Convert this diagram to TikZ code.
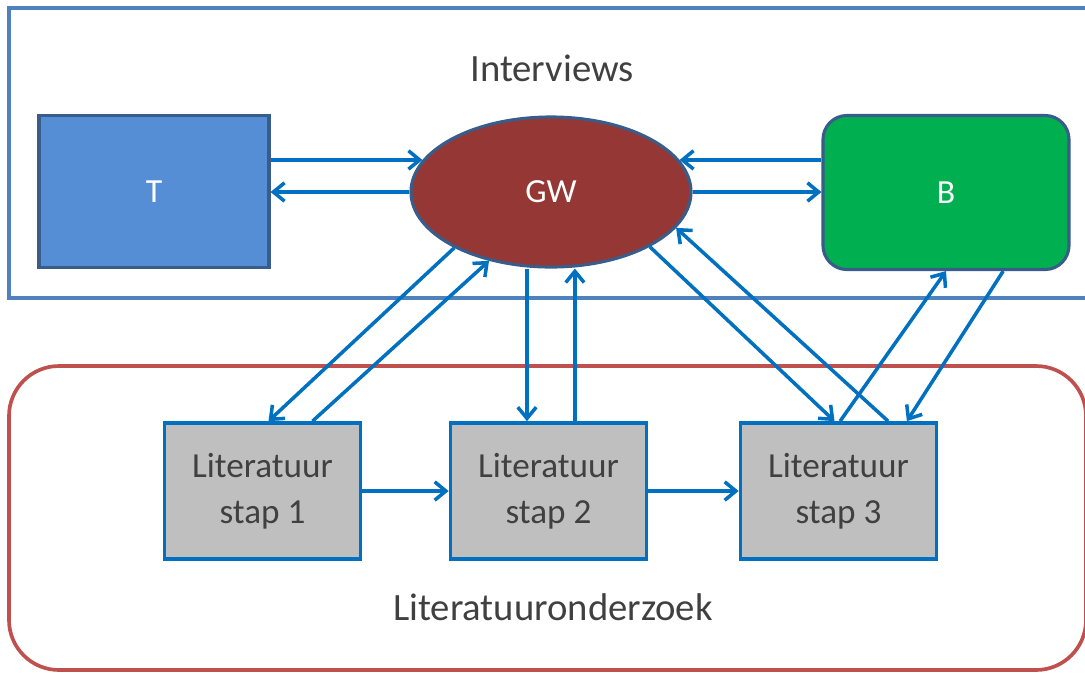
\documentclass[tikz,border=0pt]{standalone}
\usepackage{fontspec}
\setmainfont{Carlito}
\usetikzlibrary{arrows.meta,shapes.geometric}

\definecolor{flowblue}{HTML}{0070C0}
\definecolor{frameblue}{HTML}{4F81BD}
\definecolor{framered}{HTML}{C0504D}
\definecolor{edgeblue}{HTML}{385D8A}
\definecolor{tblue}{HTML}{558ED5}
\definecolor{gwred}{HTML}{953735}
\definecolor{bgreen}{HTML}{00B050}
\definecolor{litgrey}{HTML}{BFBFBF}
\definecolor{textgrey}{HTML}{404040}

\tikzset{
  flow/.style={draw=flowblue, line width=2.5pt, -{Straight Barb[length=2.8mm,width=4.6mm]}},
  actor/.style={draw=edgeblue, line width=2.2pt, text=white, font=\fontsize{24}{28}\selectfont},
  litbox/.style={draw=flowblue, line width=2.6pt, fill=litgrey, minimum width=4.9cm,
    minimum height=3.4cm, align=center, text=textgrey, font=\fontsize{25}{33}\selectfont},
  caption/.style={text=textgrey, font=\fontsize{27.5}{32}\selectfont},
}

\begin{document}
\begin{tikzpicture}[x=0.025cm, y=-0.025cm]
  \clip (0,0) rectangle (1085,673);
  % the two groups
  \draw[frameblue, line width=2.2pt] (9,8) rectangle (1095,298);
  \draw[framered, line width=2.6pt, rounded corners=1.25cm] (9,366) rectangle (1086,670);
  \node[caption] (interviews) at (552,68) {Interviews};
  \node[caption] (litonderzoek) at (553,607) {Literatuuronderzoek};

  % interviews
  \node[actor, fill=tblue, minimum width=5.75cm, minimum height=3.8cm] (T) at (154,191.5) {T};
  \node[actor, ellipse, fill=gwred, minimum width=7cm, minimum height=3.75cm] (GW) at (551,192) {GW};
  \node[actor, fill=bgreen, rounded corners=0.6cm, minimum width=6.15cm, minimum height=3.85cm] (B) at (946,192.5) {B};

  % literature steps
  \node[litbox] (L1) at (262.5,491) {Literatuur\\stap 1};
  \node[litbox] (L2) at (548.5,491) {Literatuur\\stap 2};
  \node[litbox] (L3) at (838.5,491) {Literatuur\\stap 3};

  \begin{scope}[flow]
    \draw (T.east |- GW.166) -- (GW.166);
    \draw (GW.west) -- (GW.west -| T.east);
    \draw (B.west |- GW.14) -- (GW.14);
    \draw (GW.east) -- (GW.east -| B.west);
    \draw (GW.210) -- ([xshift=0.15cm]L1.north);
    \draw ([xshift=1.25cm]L1.north) -- (GW.228);
    \draw ([xshift=-0.6cm]GW.south) -- ([xshift=-0.6cm]GW.south |- L2.north);
    \draw ([xshift=0.66cm]L2.north) -- ([xshift=0.66cm]L2.north |- GW.south);
    \draw (GW.-29) -- ([xshift=-0.1cm]L3.north);
    \draw ([xshift=1.24cm]L3.north) -- (GW.-16);
    \draw ([xshift=0.04cm]L3.north) -- (B.south);
    \draw ([xshift=1.43cm]B.south) -- ([xshift=1.71cm]L3.north);
    \draw (L1.east) -- (L2.west);
    \draw (L2.east) -- (L3.west);
  \end{scope}
\end{tikzpicture}
\end{document}
